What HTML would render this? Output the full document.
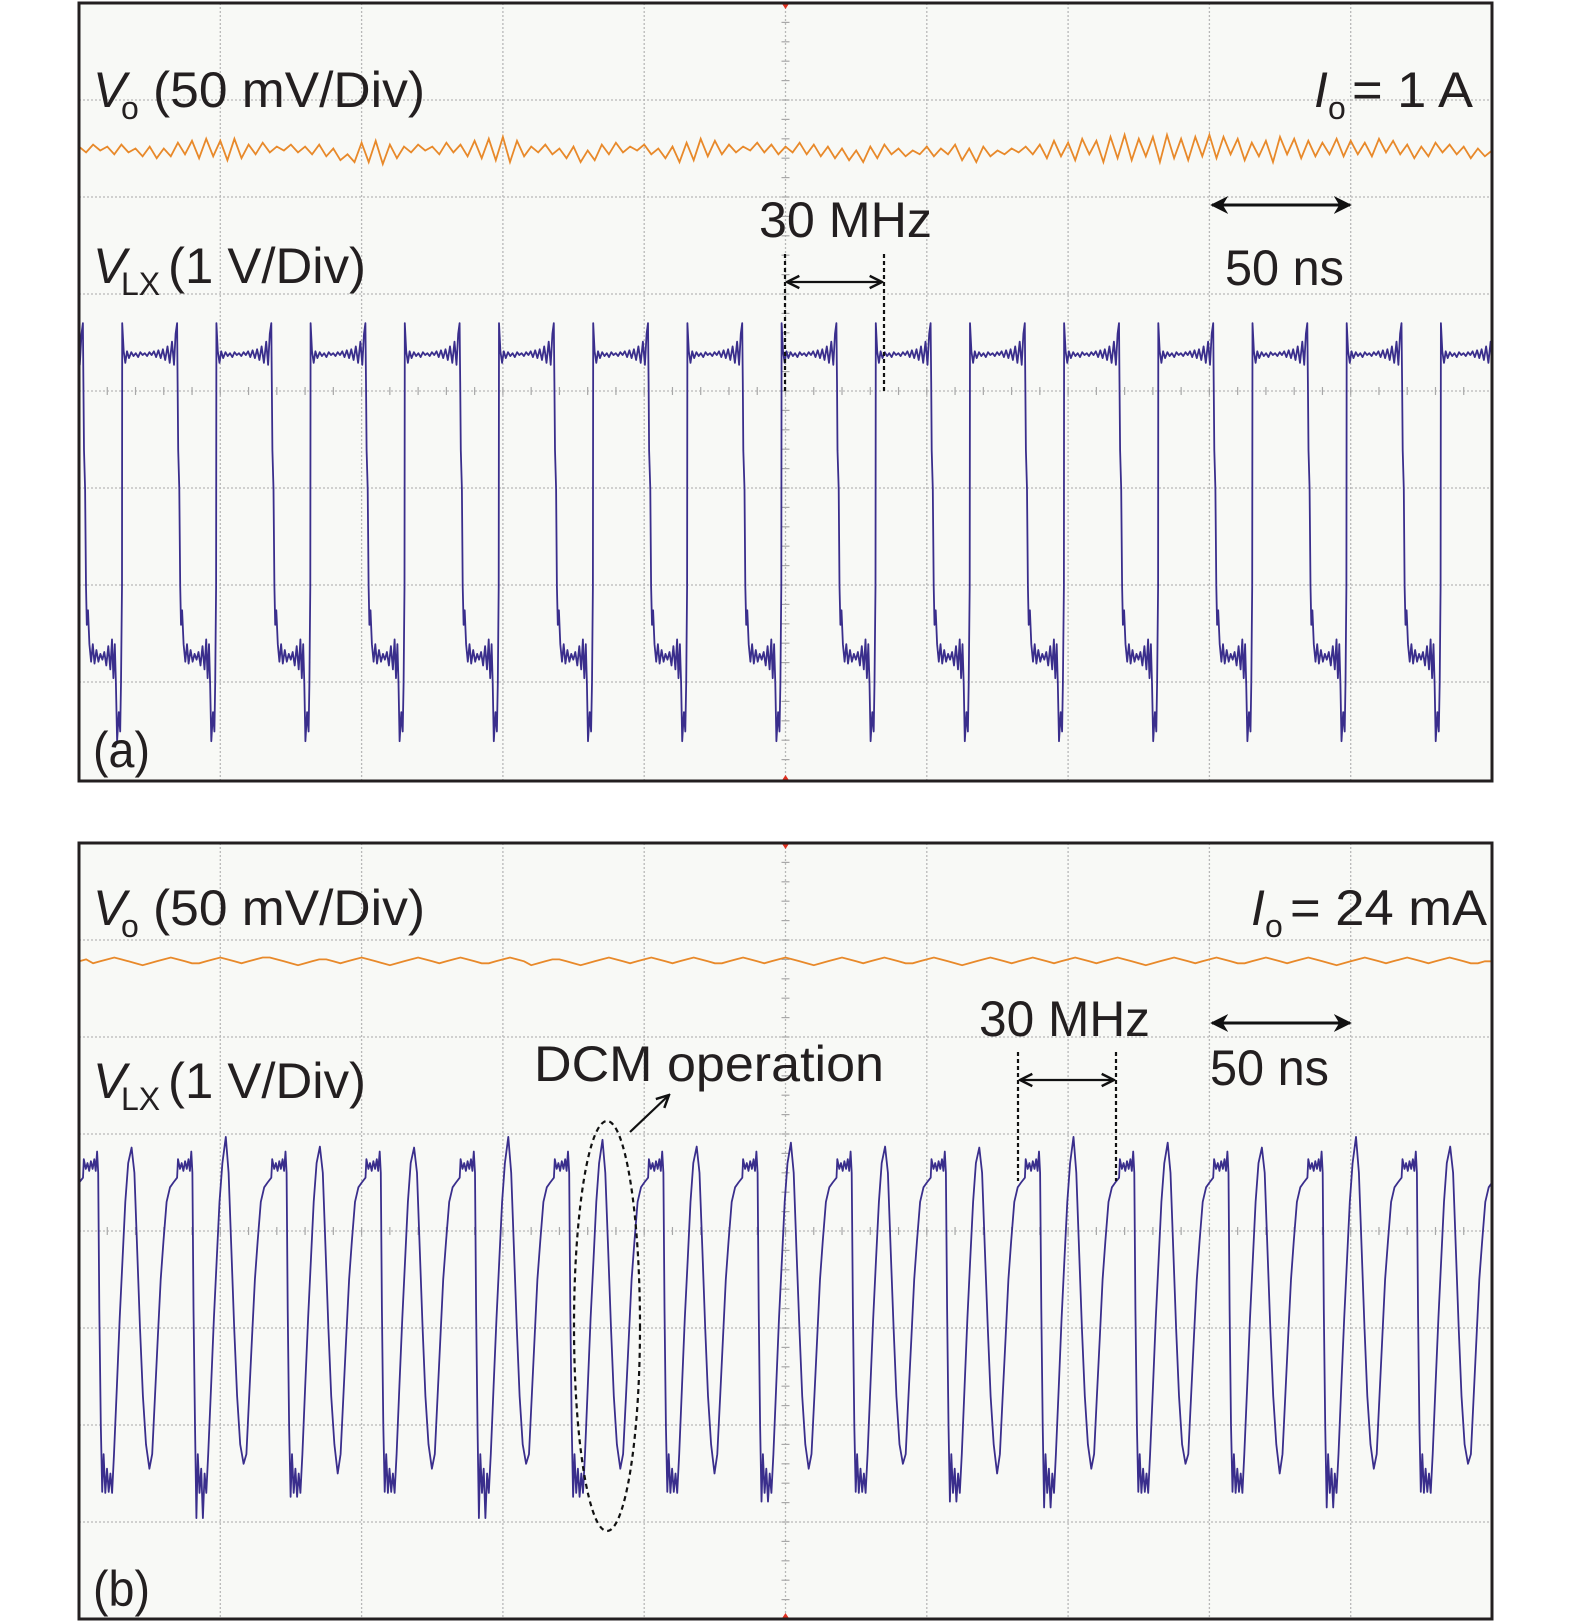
<!DOCTYPE html>
<html><head><meta charset="utf-8"><style>
html,body{margin:0;padding:0;background:#fff;}
svg{display:block;}
text{font-family:"Liberation Sans",sans-serif;fill:#231f20;}
</style></head><body>
<svg id="chart" width="1575" height="1622" viewBox="0 0 1575 1622" xmlns="http://www.w3.org/2000/svg">
<defs>
<clipPath id="clipA"><rect x="80" y="4" width="1411" height="776"/></clipPath>
<clipPath id="clipB"><rect x="80" y="844" width="1411" height="774"/></clipPath>
<marker id="ah" viewBox="0 0 10 10" refX="9" refY="5" markerWidth="7" markerHeight="7" orient="auto-start-reverse"><path d="M1,1 L9,5 L1,9" fill="none" stroke="#111" stroke-width="1.6"/></marker>
<marker id="bh" viewBox="0 0 10 10" refX="9" refY="5" markerWidth="6" markerHeight="6" orient="auto-start-reverse"><path d="M0,0 L10,5 L0,10 L3,5 z" fill="#111"/></marker>
</defs>
<g id="panelA"></g>
<g id="panelB"></g>

<g font-size="50">
<text x="93" y="107" font-style="italic">V</text>
<text x="121" y="119" font-size="32">o</text>
<text x="153" y="107" textLength="272" lengthAdjust="spacingAndGlyphs">(50 mV/Div)</text>
<text x="1314" y="107" font-style="italic">I</text>
<text x="1328" y="119" font-size="32">o</text>
<text x="1352" y="107" textLength="121" lengthAdjust="spacingAndGlyphs">= 1 A</text>
<text x="93" y="283" font-style="italic">V</text>
<text x="121" y="295" font-size="32">LX</text>
<text x="168" y="283" textLength="198" lengthAdjust="spacingAndGlyphs">(1 V/Div)</text>
<text x="759" y="237" textLength="173" lengthAdjust="spacingAndGlyphs">30 MHz</text>
<line x1="785" y1="254" x2="785" y2="392" stroke="#111" stroke-width="2.2" stroke-dasharray="4,3"/>
<line x1="884" y1="254" x2="884" y2="392" stroke="#111" stroke-width="2.2" stroke-dasharray="4,3"/>
<line x1="787" y1="282" x2="882" y2="282" stroke="#111" stroke-width="2.2" marker-start="url(#ah)" marker-end="url(#ah)"/>
<line x1="1212" y1="205" x2="1350" y2="205" stroke="#111" stroke-width="3" marker-start="url(#bh)" marker-end="url(#bh)"/>
<text x="1225" y="285" textLength="119" lengthAdjust="spacingAndGlyphs">50 ns</text>
<text x="93" y="767" textLength="57" lengthAdjust="spacingAndGlyphs">(a)</text>
</g>

<g font-size="50">
<text x="93" y="925" font-style="italic">V</text>
<text x="121" y="937" font-size="32">o</text>
<text x="153" y="925" textLength="272" lengthAdjust="spacingAndGlyphs">(50 mV/Div)</text>
<text x="1251" y="925" font-style="italic">I</text>
<text x="1265" y="937" font-size="32">o</text>
<text x="1290" y="925" textLength="197" lengthAdjust="spacingAndGlyphs">= 24 mA</text>
<text x="93" y="1098" font-style="italic">V</text>
<text x="121" y="1110" font-size="32">LX</text>
<text x="168" y="1098" textLength="198" lengthAdjust="spacingAndGlyphs">(1 V/Div)</text>
<text x="979" y="1036" textLength="171" lengthAdjust="spacingAndGlyphs">30 MHz</text>
<line x1="1018" y1="1052" x2="1018" y2="1181" stroke="#111" stroke-width="2.2" stroke-dasharray="4,3"/>
<line x1="1116" y1="1052" x2="1116" y2="1181" stroke="#111" stroke-width="2.2" stroke-dasharray="4,3"/>
<line x1="1020" y1="1080" x2="1114" y2="1080" stroke="#111" stroke-width="2.2" marker-start="url(#ah)" marker-end="url(#ah)"/>
<line x1="1212" y1="1023" x2="1350" y2="1023" stroke="#111" stroke-width="3" marker-start="url(#bh)" marker-end="url(#bh)"/>
<text x="1210" y="1085" textLength="119" lengthAdjust="spacingAndGlyphs">50 ns</text>
<text x="534" y="1081" textLength="350" lengthAdjust="spacingAndGlyphs">DCM operation</text>
<ellipse cx="607" cy="1326" rx="33" ry="205" fill="none" stroke="#111" stroke-width="2.2" stroke-dasharray="5,4"/>
<line x1="630" y1="1132" x2="669" y2="1095" stroke="#111" stroke-width="2.2" marker-end="url(#ah)"/>
<text x="93" y="1606" textLength="57" lengthAdjust="spacingAndGlyphs">(b)</text>
</g>
</svg>
<script>
// ---- data ----
const timeSpanNs = 500;              // 10 div x 50 ns
const periodNs = 33.33;              // 30 MHz
const voA_mV = [2,-1,3,0,2,-2,3,-1,1,-3,2,-4,1,-3,4,-2,5,-4,6,-3,
5,-5,6,-4,3,-2,4,-1,2,0,3,-1,2,-2,3,-3,1,-5,-2,-6,
4,-6,5,-7,3,-4,2,-1,3,0,2,-2,4,-1,3,-3,5,-4,6,-5,
7,-6,5,-3,2,-1,3,-2,1,-4,2,-6,0,-5,3,-2,4,-1,2,0,
3,-2,1,-4,2,-6,4,-5,6,-3,5,-2,3,-1,2,0,4,-1,3,-2,
2,-1,4,-2,3,-3,2,-4,1,-5,0,-6,2,-4,3,-2,1,-3,0,-2,
2,-3,1,-2,3,-5,1,-6,2,-3,0,-2,1,-1,2,-2,3,-4,5,-3,
4,-5,6,-2,5,-6,7,-4,8,-5,6,-3,7,-6,8,-4,6,-5,7,-3,
8,-4,7,-2,6,-5,4,-3,5,-6,7,-2,6,-4,5,-3,4,-2,6,-3,
5,-2,4,-3,6,-1,5,-2,3,-4,2,-3,4,-1,3,-2,2,-4,1,-3,0];
const voB_mV = [0,1,-1,0,1,2,1,0,-1,-2,-1,0,1,2,1,0,-1,-1,0,1,
2,1,0,-1,0,1,2,2,1,0,-1,-2,-1,0,1,1,0,-1,0,1,
2,1,0,-1,-2,-1,0,1,2,1,0,-1,0,1,2,1,0,-1,-1,0,
1,2,1,0,-2,-1,0,1,1,0,-1,-2,-1,0,1,2,1,0,-1,0,
1,2,1,0,-1,0,1,2,1,0,-1,-1,0,1,2,1,0,-1,0,1,
2,1,0,-1,-2,-1,0,1,2,1,0,-1,0,1,2,1,0,-1,-1,0,
1,2,1,0,-1,-2,-1,0,1,2,1,0,-1,0,1,2,1,0,-1,0,
1,2,1,0,-1,0,1,2,1,0,-1,-2,-1,0,1,2,1,0,-1,0,
1,2,1,0,-1,-1,0,1,2,1,0,-1,0,1,2,1,0,-1,-2,-1,
0,1,2,1,0,-1,0,1,2,1,0,-1,0,1,2,1,0,-1,-1,0,0];
const voOffsetA_div = 2.49;
const voOffsetB_div = 2.78;
const aCycleT = [0,0.1,0.6,1.2,1.8,2.5,3.3,4.1,4.9,5.7,6.5,7.3,8.1,8.9,9.7,10.5,11.3,12.1,12.9,13.7,14.5,15.3,16.1,16.9,17.7,18.4,19.0,19.5,19.7,19.9,20.3,20.6,20.9,21.3,21.8,22.4,23,23.6,24.3,25,25.7,26.4,27.1,27.8,28.5,29.2,29.8,30.3,30.8,31.2,31.6,32.2,32.7,33.0,33.33];
const aCycleV = [-2.0,0.71,0.42,0.30,0.42,0.35,0.41,0.37,0.40,0.36,0.41,0.38,0.40,0.37,0.41,0.38,0.42,0.36,0.43,0.35,0.44,0.33,0.47,0.30,0.52,0.28,0.60,0.71,0.1,-0.6,-1.0,-2.0,-2.4,-2.25,-2.6,-2.78,-2.6,-2.8,-2.66,-2.78,-2.7,-2.76,-2.68,-2.82,-2.62,-2.86,-2.55,-2.95,-2.6,-3.0,-3.6,-3.3,-3.5,-3.0,-2.0];
const aFirstEdgeNs = 15.2;
const bCycleT = [0,0.3,1,1.6,2.2,2.8,3.4,4,4.5,5,5.4,5.8,6.3,6.8,7.3,7.9,8.5,9.1,9.7,10.3,11,12,13,14,15,16,17.2,18.2,19.2,20.2,21.2,22.3,23.5,24.5,25.5,26.5,27.5,28.5,29.6,30.8,32,33.33];
const bCycleV = [0.55,0.74,0.64,0.7,0.62,0.72,0.64,0.74,0.62,0.82,0.6,-0.8,-2.0,'L',-2.3,-2.7,-2.45,'L',-2.5,-2.7,-2.3,-1.6,-0.9,-0.3,0.3,0.7,'P',0.6,-0.2,-1.0,-1.7,-2.2,'T',-2.3,-1.7,-1.1,-0.5,-0.1,0.3,0.45,0.5,0.55];
const bPeak = [0.9,0.86,0.97,0.87,0.86,0.97,0.94,0.87,0.91,0.87,0.86,0.97,0.91,0.86,0.97,0.87,0.9];
const bLow = [-2.7,-2.69,-2.96,-2.74,-2.69,-2.96,-2.74,-2.69,-2.79,-2.69,-2.79,-2.85,-2.69,-2.69,-2.85,-2.69,-2.7];
const bTrough = [-2.45,-2.45,-2.4,-2.5,-2.45,-2.4,-2.45,-2.5,-2.45,-2.4,-2.5,-2.45,-2.4,-2.5,-2.45,-2.4,-2.45];
const bFirstPlateauNs = 1.4;

// ---- geometry ----
const NS = 'http://www.w3.org/2000/svg';
const L = 79, R = 1492, DIVY = 97;
const panels = {A:{top:3,bot:781,g:document.getElementById('panelA'),clip:'clipA'},
                B:{top:843,bot:1619,g:document.getElementById('panelB'),clip:'clipB'}};
function xOf(t){ return L + t / timeSpanNs * (R - L); }
function yOf(p, v){ return (p.top + p.bot) / 2 - v * DIVY; }
function mk(tag, attrs, parent){ const e = document.createElementNS(NS, tag); for (const k in attrs) e.setAttribute(k, attrs[k]); parent.appendChild(e); return e; }

function drawFrame(p, key){
  const bg = mk('rect', {x:L, y:p.top, width:R-L, height:p.bot-p.top, fill:'#f8f9f6'}, p.g);
  
  
  const dx = (R - L) / 10;
  for (let i = 1; i < 10; i++) {
    const ln = mk('line', {x1:L+i*dx, x2:L+i*dx, y1:p.top, y2:p.bot, stroke:'#b8b8b8', 'stroke-width':1.3, 'stroke-dasharray':'2,2'}, p.g);
    
    
  }
  for (let j = 1; j < 8; j++) {
    const y = p.top + j * DIVY;
    const ln = mk('line', {x1:L, x2:R, y1:y, y2:y, stroke:'#b8b8b8', 'stroke-width':1.3, 'stroke-dasharray':'2,2'}, p.g);
    
    
  }
  const cx = L + 5 * dx, cy = p.top + 4 * DIVY;
  for (let k = 1; k < 40; k++) {
    const y = p.top + k * DIVY / 5;
    mk('line', {x1:cx-4, x2:cx+4, y1:y, y2:y, stroke:'#a8a8a8', 'stroke-width':1.2}, p.g);
  }
  for (let k = 1; k < 50; k++) {
    const x = L + k * dx / 5;
    mk('line', {x1:x, x2:x, y1:cy-4, y2:cy+4, stroke:'#a8a8a8', 'stroke-width':1.2}, p.g);
  }
  const t1 = mk('path', {d:`M${cx-4},${p.top} L${cx+4},${p.top} L${cx},${p.top+6} z`, fill:'#e03020'}, p.g);
  
  
  const t2 = mk('path', {d:`M${cx-4},${p.bot} L${cx+4},${p.bot} L${cx},${p.bot-6} z`, fill:'#e03020'}, p.g);
  
  
}
function drawBorder(p, key){
  const b = mk('rect', {x:L, y:p.top, width:R-L, height:p.bot-p.top, fill:'none', stroke:'#231f20', 'stroke-width':3}, p.g);
  
  
}
function drawVo(p, key, arr, off){
  const step = timeSpanNs / (arr.length - 1);
  const pts = arr.map((mv, i) => xOf(i*step).toFixed(1) + ',' + yOf(p, off + mv/50).toFixed(1));
  const pl = mk('polyline', {points:pts.join(' '), fill:'none', stroke:'#e8892a', 'stroke-width':1.8, 'clip-path':`url(#${p.clip})`}, p.g);
  
  
}
function drawVlx(p, key, pts){
  const pl = mk('polyline', {points:pts.join(' '), fill:'none', stroke:'#3a2e8c', 'stroke-width':1.8, 'stroke-linejoin':'round', 'clip-path':`url(#${p.clip})`}, p.g);
  
  
}

drawFrame(panels.A, 'a');
drawVo(panels.A, 'a', voA_mV, voOffsetA_div);
{
  const pts = [];
  for (let k = 0; k < 17; k++) {
    const t0 = aFirstEdgeNs + (k - 1) * periodNs;
    for (let i = 0; i < aCycleT.length - 1; i++) {
      pts.push(xOf(t0 + aCycleT[i]).toFixed(1) + ',' + yOf(panels.A, aCycleV[i]).toFixed(1));
    }
  }
  drawVlx(panels.A, 'a', pts);
}
drawBorder(panels.A, 'a');

drawFrame(panels.B, 'b');
drawVo(panels.B, 'b', voB_mV, voOffsetB_div);
{
  const pts = [];
  for (let k = 0; k < 17; k++) {
    const t0 = bFirstPlateauNs + (k - 1) * periodNs;
    for (let i = 0; i < bCycleT.length - 1; i++) {
      let v = bCycleV[i];
      if (v === 'L') v = bLow[k];
      else if (v === 'P') v = bPeak[k];
      else if (v === 'T') v = bTrough[k];
      pts.push(xOf(t0 + bCycleT[i]).toFixed(1) + ',' + yOf(panels.B, v).toFixed(1));
    }
  }
  drawVlx(panels.B, 'b', pts);
}
drawBorder(panels.B, 'b');
</script>
</body></html>
